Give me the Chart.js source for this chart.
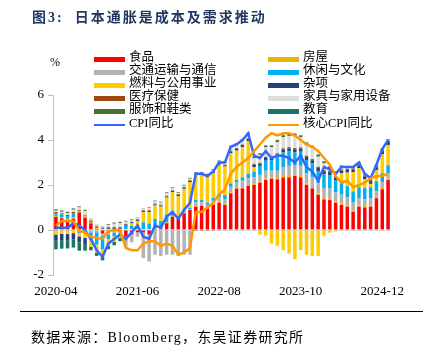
<!DOCTYPE html>
<html><head><meta charset="utf-8">
<script src="https://cdn.jsdelivr.net/npm/chart.js@4/dist/chart.umd.min.js"></script>
<style>
html,body{margin:0;padding:0;background:#fff;}
#wrap{position:relative;width:437px;height:350px;overflow:hidden;font-family:"Liberation Serif","Noto Sans CJK SC",serif;color:#000;}
#c{position:absolute;left:0;top:0;}
#title{position:absolute;left:32px;top:6px;font-size:14px;font-weight:bold;color:#1F3864;white-space:nowrap;letter-spacing:2px;}
#pct{position:absolute;left:50px;top:55px;font-size:12px;}
#legend{position:absolute;left:0;top:0;width:437px;height:140px;pointer-events:none;}
.li{position:absolute;height:13px;line-height:13px;font-size:12.5px;white-space:nowrap;}
.sw{position:absolute;left:0;width:31px;}
.lt{position:absolute;left:35px;top:-1px;}
#rule{position:absolute;left:20px;top:311px;width:403px;height:0;border-top:1.3px solid #000;}
#src{position:absolute;left:31px;top:326px;font-size:14px;letter-spacing:1.3px;white-space:nowrap;}
</style></head>
<body>
<div id="wrap">
<canvas id="c" width="437" height="350"></canvas>
<div id="title">图3:&nbsp;&nbsp;日本通胀是成本及需求推动</div>
<div id="pct">%</div>
<div id="legend"></div>
<div id="rule"></div>
<div id="src">数据来源：Bloomberg，东吴证券研究所</div>
</div>
<script>
const months = ['2020-04','2020-05','2020-06','2020-07','2020-08','2020-09','2020-10','2020-11','2020-12',
'2021-01','2021-02','2021-03','2021-04','2021-05','2021-06','2021-07','2021-08','2021-09','2021-10','2021-11','2021-12',
'2022-01','2022-02','2022-03','2022-04','2022-05','2022-06','2022-07','2022-08','2022-09','2022-10','2022-11','2022-12',
'2023-01','2023-02','2023-03','2023-04','2023-05','2023-06','2023-07','2023-08','2023-09','2023-10','2023-11','2023-12',
'2024-01','2024-02','2024-03','2024-04','2024-05','2024-06','2024-07','2024-08','2024-09','2024-10','2024-11','2024-12',
'2025-01'];
const tickLabels = ['2020-04','2021-06','2022-08','2023-10','2024-12'];

const food = [0.58,0.52,0.45,0.50,0.78,0.55,0.30,0.05,-0.15,-0.10,-0.05,-0.10,
 -0.30,-0.20,-0.10,-0.10,-0.20,0.05,0.05,0.30,0.59,0.52,0.74,0.89,
 1.04,1.07,0.96,1.11,1.21,1.11,1.63,1.84,1.85,1.96,2.00,2.10,
 2.22,2.28,2.25,2.34,2.34,2.40,2.34,2.00,1.85,1.56,1.36,1.33,
 1.21,1.11,1.04,0.81,1.04,1.00,1.04,1.41,1.81,2.22];
const housing = [0.05,0.05,0.05,0.05,0.05,0.05,0.05,0.05,0.05,0.05,0.05,0.05,
 0.04,0.04,0.04,0.04,0.04,0.04,0.04,0.04,0.04,0.04,0.04,0.04,
 0.04,0.04,0.04,0.04,0.04,0.04,0.04,0.04,0.04,0.04,0.05,0.05,
 0.06,0.06,0.06,0.06,0.06,0.06,0.06,0.06,0.06,0.06,0.06,0.06,
 0.06,0.06,0.06,0.06,0.06,0.06,0.06,0.06,0.06,0.06];
const transport = [-0.05,-0.02,-0.03,-0.02,-0.03,-0.05,-0.10,-0.10,-0.10,-0.10,-0.08,-0.05,
 -0.45,-0.35,-0.20,-1.15,-1.20,-1.10,-1.15,-1.10,-1.10,-1.15,-1.10,-1.10,
 0.15,0.12,0.12,0.15,0.20,0.20,0.25,0.25,0.30,0.30,0.30,0.30,
 0.35,0.30,0.32,0.40,0.45,0.40,0.45,0.45,0.45,0.45,0.45,0.45,
 0.40,0.40,0.35,0.35,0.30,0.30,0.30,0.25,0.25,0.25];
const leisure = [0.12,0.12,0.12,0.20,-0.10,-0.10,-0.35,-0.55,-0.60,-0.20,-0.15,-0.05,
 0.15,0.15,0.15,0.30,0.25,0.40,0.30,0.35,0.20,0.05,0.05,0.05,
 0.10,0.10,0.10,0.12,0.15,0.20,0.15,0.10,0.15,0.20,0.25,0.40,
 0.45,0.45,0.60,0.65,0.65,0.60,0.63,0.60,0.60,0.55,0.60,0.60,
 0.55,0.55,0.50,0.50,0.50,0.50,0.50,0.45,0.40,0.35];
const fuel = [-0.15,-0.15,-0.15,-0.12,-0.15,-0.20,-0.30,-0.35,-0.35,-0.30,-0.25,-0.15,
 -0.05,0.10,0.20,0.45,0.50,0.60,0.65,0.75,0.85,0.90,1.00,1.15,
 1.10,1.10,1.12,1.10,1.30,1.27,1.35,1.30,1.35,1.45,0.20,-0.20,
 -0.25,-0.60,-0.70,-0.90,-1.05,-1.30,-0.90,-1.10,-1.15,-1.15,-0.25,-0.12,
 -0.07,0.40,0.60,0.85,0.85,0.40,0.15,0.50,0.85,0.90];
const misc = [-0.28,-0.28,-0.27,-0.27,-0.27,-0.27,0.03,0.03,0.03,0.05,0.05,0.05,
 0.05,0.05,0.05,0.05,0.05,0.05,0.05,0.05,0.05,0.05,0.05,0.05,
 0.05,0.05,0.05,0.06,0.06,0.06,0.07,0.08,0.08,0.09,0.10,0.10,
 0.12,0.12,0.13,0.13,0.13,0.13,0.14,0.14,0.14,0.14,0.14,0.13,
 0.12,0.12,0.12,0.12,0.12,0.12,0.12,0.12,0.13,0.13];
const medical = [0.05,0.05,0.05,0.05,0.05,0.05,0.04,0.03,0.03,0.03,0.03,0.03,
 0.03,0.03,0.03,0.03,0.03,0.03,0.03,0.03,0.03,0.03,0.03,0.03,
 -0.04,-0.04,-0.04,-0.03,-0.02,0.02,0.03,0.03,0.03,0.03,0.04,0.04,
 0.05,0.05,0.05,0.05,0.05,0.05,0.05,0.05,0.05,0.05,0.05,0.05,
 0.05,0.05,0.05,0.05,0.05,0.05,0.05,0.05,0.05,0.05];
const furniture = [0.06,0.07,0.08,0.10,0.12,0.20,0.05,0.04,0.05,0.10,0.15,0.18,
 0.10,0.07,0.05,0.05,0.10,0.10,0.10,0.12,0.10,0.05,0.06,0.07,
 0.05,0.05,0.06,0.07,0.08,0.10,0.15,0.16,0.17,0.18,0.25,0.35,
 0.42,0.42,0.50,0.50,0.50,0.55,0.45,0.50,0.50,0.45,0.30,0.12,
 0.12,0.10,0.05,0.03,0.03,0.03,0.03,0.02,0.02,0.02];
const clothing = [0.06,0.06,0.06,0.06,0.05,0.05,0.03,0.03,0.02,0.04,0.05,0.05,
 0.03,0.03,0.02,0.02,0.03,0.03,0.03,0.03,0.03,0.03,0.03,0.03,
 0.02,0.03,0.03,0.03,0.03,0.03,0.04,0.04,0.05,0.05,0.06,0.06,
 0.07,0.07,0.08,0.08,0.08,0.08,0.08,0.08,0.08,0.08,0.08,0.08,
 0.07,0.06,0.06,0.05,0.05,0.05,0.05,0.04,0.04,0.04];
const education = [-0.38,-0.38,-0.37,-0.37,-0.37,-0.30,-0.15,-0.15,-0.15,-0.15,-0.15,-0.15,
 0.01,0.01,0.01,0.01,0.01,0.01,0.01,0.01,0.01,0.01,0.01,0.01,
 0.02,0.02,0.02,0.02,0.02,0.02,0.02,0.02,0.02,0.02,0.02,0.02,
 0.02,0.02,0.02,0.02,0.02,0.02,0.02,0.02,0.02,0.02,0.02,0.02,
 0.02,0.02,0.02,0.02,0.02,0.02,0.02,0.02,0.02,0.02];
const cpi = [0.1,0.1,0.1,0.3,0.2,0.0,-0.4,-0.9,-1.2,-0.6,-0.4,-0.2,
 -0.4,-0.1,0.2,-0.3,-0.4,0.2,0.1,0.6,0.8,0.5,0.9,1.2,
 2.5,2.5,2.4,2.6,3.0,3.0,3.7,3.8,4.0,4.3,3.3,3.2,
 3.5,3.2,3.3,3.3,3.2,3.0,3.3,2.8,2.6,2.2,2.8,2.7,
 2.5,2.8,2.8,2.8,3.0,2.5,2.3,2.9,3.6,4.0];
const core = [0.2,0.4,0.4,0.4,-0.05,-0.1,-0.3,-0.35,-0.4,-0.05,0.0,0.0,
 -0.8,-0.9,-0.9,-0.6,-0.5,-0.5,-0.7,-0.6,-0.7,-1.1,-1.0,-0.8,
 0.8,0.8,1.0,1.2,1.6,1.8,2.5,2.8,3.0,3.2,3.5,3.8,
 4.1,4.3,4.2,4.3,4.3,4.2,4.0,3.8,3.7,3.5,3.2,2.9,
 2.4,2.1,2.2,1.9,2.0,2.1,2.3,2.4,2.4,2.5];

const FONT = '"Liberation Serif","Noto Sans CJK SC",serif';
function bar(label, data, color){
  return {type:'bar', label, data, backgroundColor:color, borderWidth:0,
    barPercentage:0.6, categoryPercentage:1.0, stack:'parts', order:1};
}
const datasets = [
  bar('食品', food, '#FF0000'),
  bar('房屋', housing, '#EDB300'),
  bar('交通运输与通信', transport, '#B2B2B2'),
  bar('休闲与文化', leisure, '#00B0F0'),
  bar('燃料与公用事业', fuel, '#FFCC00'),
  bar('杂项', misc, '#24407A'),
  bar('医疗保健', medical, '#9E4A10'),
  bar('家具与家用设备', furniture, '#DDDDDD'),
  bar('服饰和鞋类', clothing, '#4A7030'),
  bar('教育', education, '#1E7266'),
  {type:'line', label:'CPI同比', data:cpi, borderColor:'#3366FF', backgroundColor:'#3366FF',
   borderWidth:2.5, pointRadius:0, tension:0, stack:'l1', order:-1, fill:false},
  {type:'line', label:'核心CPI同比', data:core, borderColor:'#FF9900', backgroundColor:'#FF9900',
   borderWidth:2.5, pointRadius:0, tension:0, stack:'l2', order:-2, fill:false}
];

const chart = new Chart(document.getElementById('c'), {
  data:{labels:months, datasets},
  options:{
    responsive:false, animation:false, devicePixelRatio:1,
    layout:{padding:{left:33, right:46, top:95, bottom:50}},
    plugins:{legend:{display:false}, tooltip:{enabled:false}, title:{display:false}},
    scales:{
      x:{stacked:true, offset:true,
        grid:{display:false}, border:{display:false},
        ticks:{autoSkip:false, maxRotation:0, minRotation:0, padding:1, color:'#000',
          font:{family:FONT, size:13},
          callback:function(v,i){ const l = months[i]; return tickLabels.includes(l) ? l : ''; }},
        afterFit:function(s){ s.height = 25; }
      },
      y:{stacked:true, min:-2, max:6,
        ticks:{stepSize:2, padding:4, color:'#000', font:{family:FONT, size:13}},
        grid:{drawOnChartArea:true, drawTicks:true, tickLength:5, tickColor:'#BFBFBF',
          color:function(ctx){ return (ctx.tick && ctx.tick.value===0) ? '#D9D9D9' : 'rgba(0,0,0,0)'; }},
        border:{display:true, color:'#BFBFBF'},
        afterFit:function(s){ s.width = 20; }
      }
    }
  }
});

// Legend built from the chart's datasets (two columns, row-major order)
const lg = document.getElementById('legend');
chart.data.datasets.forEach(function(ds, i){
  const col = i % 2, row = Math.floor(i / 2);
  const item = document.createElement('div');
  item.className = 'li';
  item.style.left = (col === 0 ? 94 : 268) + 'px';
  item.style.top = (52 + row * 13.1) + 'px';
  const sw = document.createElement('div');
  sw.className = 'sw';
  const isLine = ds.type === 'line';
  sw.style.height = isLine ? '2px' : '5px';
  sw.style.top = isLine ? '6px' : '4.5px';
  sw.style.background = isLine ? ds.borderColor : ds.backgroundColor;
  const tx = document.createElement('div');
  tx.className = 'lt';
  tx.textContent = ds.label;
  item.appendChild(sw); item.appendChild(tx);
  lg.appendChild(item);
});
</script>
</body></html>
